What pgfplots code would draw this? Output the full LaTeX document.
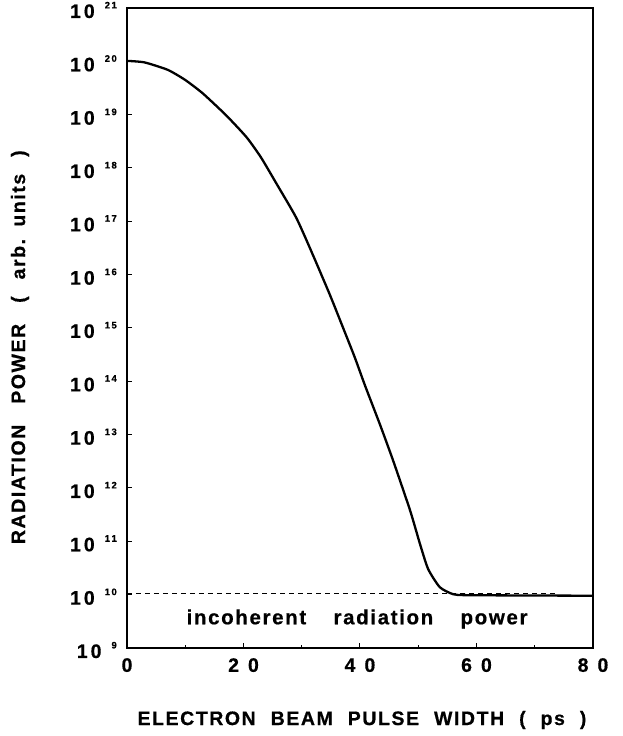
\documentclass[border=0pt]{standalone}
\usepackage{pgfplots}
\pgfplotsset{compat=1.18}
\usepackage{fontspec}
\setmainfont{Liberation Sans Bold}[FakeBold=0.6]
\newfontfamily\labfont[LetterSpace=8,FakeBold=0.6]{Liberation Sans Bold}
\newfontfamily\txtfont[LetterSpace=8,FakeBold=0.6]{Liberation Sans Bold}
\newcommand\ytl[1]{\fontsize{19.5}{20}\selectfont 1\hspace{3pt}0\hspace{10pt}\raisebox{9.5pt}{\fontsize{9.5}{10}\selectfont #1}}
\newcommand\xtl[1]{\fontsize{19.5}{20}\selectfont #1}
\begin{document}
\begin{tikzpicture}
\path[use as bounding box] (-127pt,-88pt) rectangle (496pt,648pt);
\begin{axis}[
  at={(0,0)}, anchor=south west,
  scale only axis, width=466pt, height=640pt,
  xmin=0, xmax=80, ymode=log, ymin=1e9, ymax=1e21,
  axis line style={line width=1.3pt},
  xtick={0,20,40,60,80},
  minor xtick={10,30,50,70},
  xticklabels={\xtl{0},\xtl{2\hspace{9pt}0},\xtl{4\hspace{9pt}0},\xtl{6\hspace{9pt}0},\xtl{8\hspace{9pt}0}},
  ytick={1e9,1e10,1e11,1e12,1e13,1e14,1e15,1e16,1e17,1e18,1e19,1e20,1e21},
  yticklabels={\ytl{9},\ytl{1\hspace{1.5pt}0},\ytl{1\hspace{1.5pt}1},\ytl{1\hspace{1.5pt}2},\ytl{1\hspace{1.5pt}3},\ytl{1\hspace{1.5pt}4},\ytl{1\hspace{1.5pt}5},\ytl{1\hspace{1.5pt}6},\ytl{1\hspace{1.5pt}7},\ytl{1\hspace{1.5pt}8},\ytl{1\hspace{1.5pt}9},\ytl{2\hspace{1.5pt}0},\ytl{2\hspace{1.5pt}1}},
  yminorticks=false,
  tick align=inside,
  xtick pos=bottom, ytick pos=left,
  major tick length=5pt, minor tick length=3.5pt,
  tick style={line width=1pt, black},
  xticklabel style={anchor=north, inner sep=0pt, yshift=-10pt},
  yticklabel style={anchor=east, inner sep=0pt, xshift=-10pt, yshift=-2pt},
  xlabel={\labfont\fontsize{19.5}{22}\selectfont ELECTRON\hspace{8pt} BEAM\hspace{8pt} PULSE\hspace{8pt} WIDTH\hspace{8pt} (\hspace{8pt} ps\hspace{8pt} )},
  xlabel style={at={(axis description cs:0.5,0)}, anchor=center, yshift=-72pt, xshift=2pt},
  ylabel={\labfont\fontsize{19.5}{22}\selectfont RADIATION\hspace{14pt} POWER\hspace{14pt} (\hspace{10pt} arb.\hspace{3pt} units\hspace{10pt} )},
  ylabel style={at={(axis description cs:0,0.47)}, anchor=center, yshift=107pt},
  clip=false,
]
\addplot[black, line width=1pt, dash pattern=on 5pt off 4pt] coordinates {(0,1.03e10) (74,1.03e10)};
\addplot[black, line width=2.3pt, line join=round, smooth, tension=0.35] coordinates {
(0,1.02e20) (3,9.55e19) (7,6.92e19) (10,4.47e19) (13,2.51e19) (17,9.77e18)
(20.5,3.80e18) (23,1.58e18) (25.7,5.01e17) (29,1.20e17) (31.4,3.16e16)
(34.8,4.27e15) (37.4,8.32e14) (39.1,2.82e14) (40.9,8.13e13) (43.4,1.58e13)
(45.7,3.24e12) (48.6,3.80e11) (50.3,8.91e10) (51.7,3.02e10) (53.7,1.38e10)
(56.0,1.02e10) (58.9,9.77e9) (80,9.55e9)
};
\node[font=\txtfont\fontsize{20.5}{22}\selectfont] at (axis cs:39.5,3.5e9) {incoherent\hspace{20pt} radiation\hspace{20pt} power};
\end{axis}
\end{tikzpicture}
\end{document}
